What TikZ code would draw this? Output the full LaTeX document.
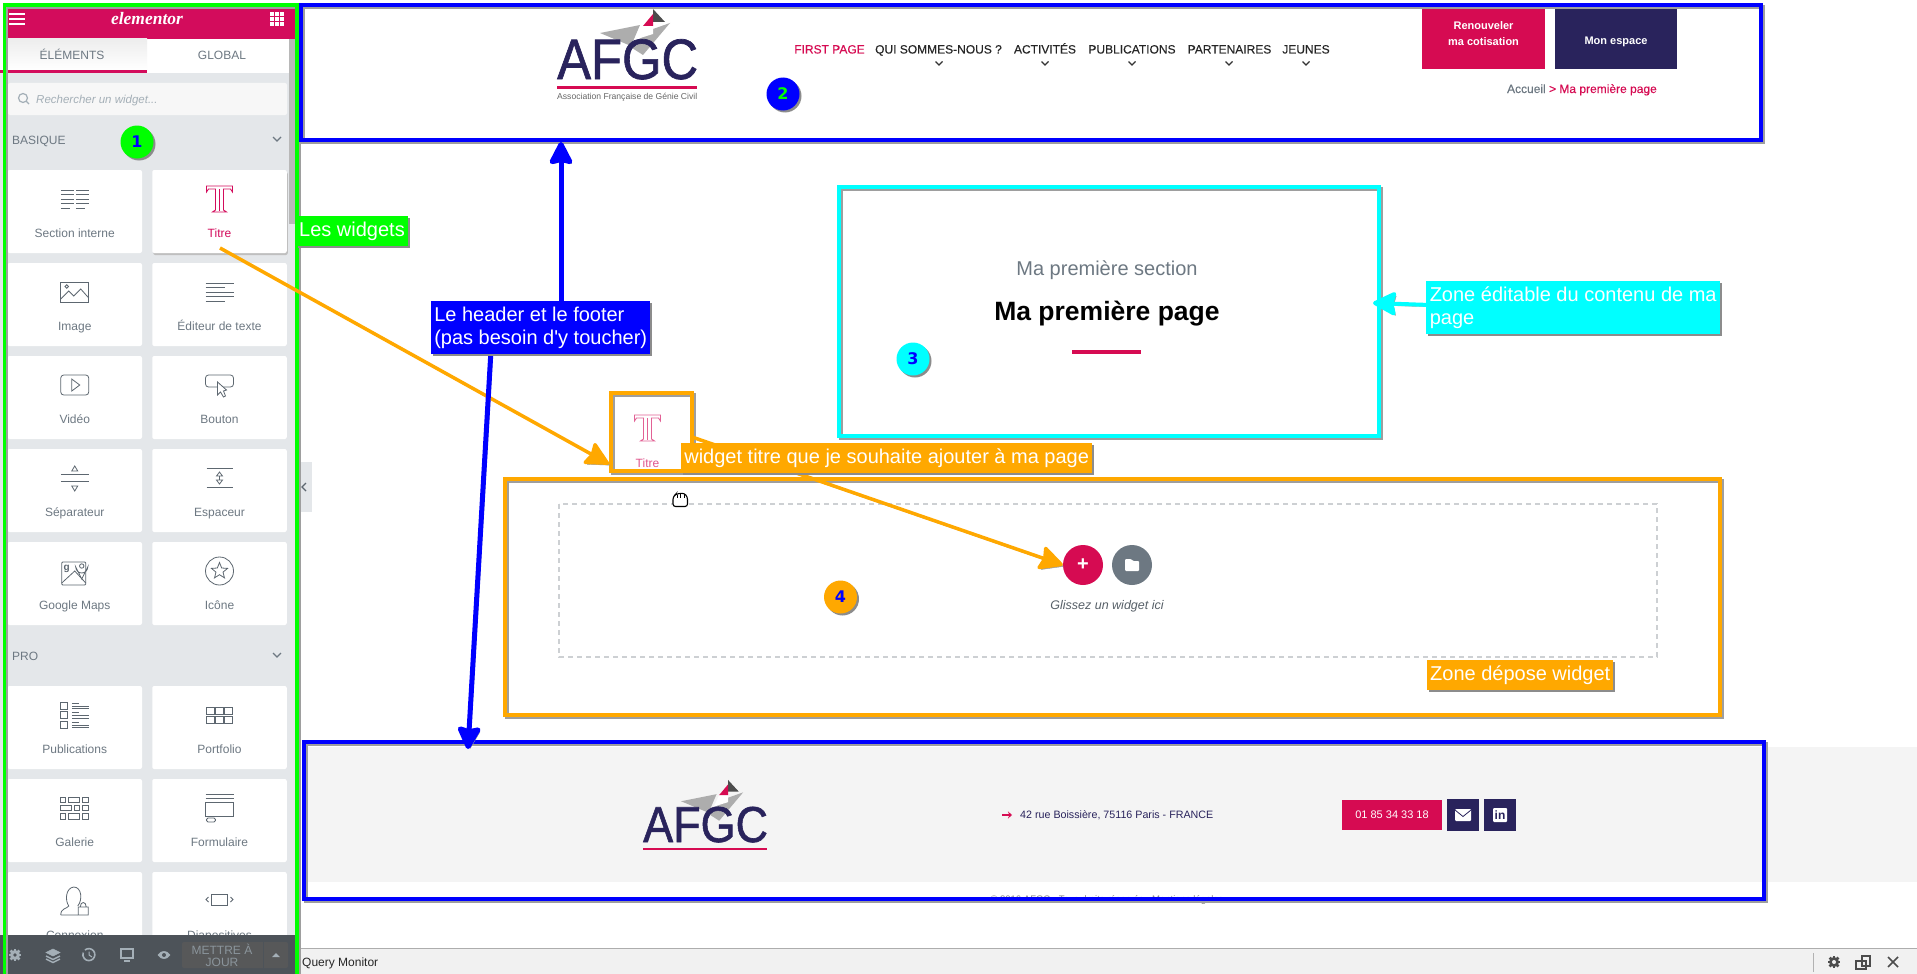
\documentclass[tikz,border=0pt]{standalone}
\usepackage{fontspec}
\setmainfont{Liberation Sans}
\newfontfamily\logofont{Liberation Serif}
\newfontfamily\numfont{DejaVu Sans}
\newfontfamily\tagfont{Liberation Sans}
\newfontfamily\menufont[FakeBold=0.25]{Liberation Sans}
\newfontfamily\brandfont[FakeBold=1.2]{Liberation Sans}
\usetikzlibrary{arrows.meta,shapes.geometric}
\definecolor{panelbg}{HTML}{E4E7EA}
\definecolor{elpink}{HTML}{D30C5C}
\definecolor{afgcpink}{HTML}{D60B52}
\definecolor{afgcnavy}{HTML}{29235C}
\definecolor{icongrey}{HTML}{5D6770}
\definecolor{textgrey}{HTML}{6D7882}
\definecolor{softgrey}{HTML}{A4AFB7}
\definecolor{barbg}{HTML}{4D5359}
\definecolor{zonegreen}{HTML}{00FF00}
\definecolor{zoneblue}{HTML}{0000FF}
\definecolor{zonecyan}{HTML}{00FFFF}
\definecolor{zoneorange}{HTML}{FFA800}
\newcommand{\fs}[1]{\fontsize{#1}{#1}\selectfont}
\tikzset{
  x=1pt,y=-1pt,
  edgeshadow/.style={preaction={draw=black!38,transform canvas={shift={(2pt,-2pt)}}}},
  fillshadow/.style={preaction={fill=black!45,transform canvas={shift={(2pt,-2pt)}}}},
  zone/.style={draw=#1,line width=4pt,inner sep=0pt,edgeshadow},
  tag/.style={fill=#1,text=white,anchor=north west,inner xsep=3pt,inner ysep=0pt,align=left,fillshadow,font=\tagfont\fontsize{20}{23}\selectfont},
  badge/.style={circle,fill=#1,minimum size=33pt,inner sep=0pt,fillshadow,font=\numfont\bfseries\fs{16}},
  arrowline/.style={draw=#1,-{Stealth[length=26pt,width=26pt,inset=3pt,round]},edgeshadow},
  card/.style={fill=white,rounded corners=2pt,minimum width=134.5pt,minimum height=83pt,inner sep=0pt},
  cardtxt/.style={text=textgrey,font=\fs{12},anchor=base},
  icon/.style={draw=icongrey,line width=.8pt},
  menuitem/.style={text=black!85,font=\menufont\fs{12},inner sep=0pt,anchor=base},
  chevron/.style={draw=#1,line width=1.2pt},
  btn/.style={fill=#1,inner sep=0pt},
  btntxt/.style={text=white,font=\bfseries\fs{11},inner sep=0pt,align=center},
  baricon/.style={draw=softgrey,fill=softgrey,line width=.6pt},
  titleicon/.pic={
    \draw[draw=#1,line width=.9pt] (-13,22) -- (-13,16) -- (13,16) -- (13,22) -- (11,19) -- (4,19) -- (4,40) -- (7,42) -- (-7,42) -- (-4,40) -- (-4,19) -- (-11,19) -- cycle;
    \draw[draw=#1,line width=.6pt] (0,19) -- (0,41);
  },
  gearicon/.pic={
    \foreach \a in {0,45,...,315} \draw[draw=#1,line width=2.6pt] (\a:3) -- (\a:6.2);
    \fill[#1] (0,0) circle (5);
  },
  afgclogo/.pic={
    \fill[black!32] (43,-46) -- (83,-54) -- (74,-33) -- cycle;
    \fill[black!32] (113,-56) -- (96,-50) -- (72,-33) -- (86,-24) -- cycle;
    \fill[white] (96,-53) -- (86,-53) -- (80,-40) -- (96,-45) -- cycle;
    \fill[black!70] (96,-70) -- (108,-57) -- (96,-57) -- cycle;
    \fill[afgcpink] (96,-65) -- (86,-53) -- (96,-53) -- cycle;
    \node[anchor=base west,inner sep=0pt,text=afgcnavy,font=\brandfont\fs{57},transform shape] (-logoname) at (0,0) {\scalebox{.89}[1]{AFGC}};
    \fill[afgcpink] (0,6.5) rectangle (140,9.5);
  }
}
\begin{document}
\begin{tikzpicture}
\useasboundingbox (0,0) rectangle (1917,974);
\fill[white] (0,0) rectangle (1917,974);
% page background
\fill[black!4.5] (302,747) rectangle (1917,882);
\fill[black!5.5] (296,948) rectangle (1917,974);
\draw[black!32,line width=1pt] (296,948) -- (1917,948);
\fill[panelbg] (297,462) -- (312,462) -- (312,512) -- (297,512) -- cycle;
\draw[chevron=icongrey] (306,483) -- (302,487) -- (306,491);
% elementor panel
\fill[panelbg] (0,73) rectangle (296,935);
\fill[elpink] (5,5) rectangle (296,39);
\fill[white] (147,39) rectangle (290,73);
\shade[top color=black!7,bottom color=white] (6,39) rectangle (147,70);
\fill[elpink] (0,70) rectangle (147,73);
\fill[black!28] (289,39) rectangle (295,224);
\foreach \yy in {14,19,24} \draw[white,line width=2.2pt] (9,\yy) -- (25,\yy);
\foreach \xx in {270,275,280} \foreach \yy in {12,17,22} \fill[white] (\xx,\yy) rectangle +(3.8,3.8);
\node[text=white,font=\logofont\bfseries\itshape\fs{17.5},inner sep=0pt] (ellogo) at (147,19) {elementor};
\node[text=textgrey,font=\fs{12},inner sep=0pt,anchor=base] (tabelements) at (72,59.5) {ÉLÉMENTS};
\node[text=textgrey,font=\fs{12},inner sep=0pt,anchor=base] (tabglobal) at (222,59.5) {GLOBAL};
\fill[black!3,rounded corners=2pt] (8,83) rectangle (287,115);
\draw[softgrey,line width=1.2pt] (23,98) circle (4.5) (26.5,101.5) -- (29,104);
\node[anchor=base west,text=softgrey,font=\itshape\fs{11.5},inner sep=0pt] (searchtxt) at (36,103) {Rechercher un widget...};
\node[anchor=base west,text=textgrey,font=\fs{12},inner sep=0pt] (basique) at (12,144.5) {BASIQUE};
\draw[chevron=textgrey] (273,137) -- (277,141) -- (281,137);
\node[anchor=base west,text=textgrey,font=\fs{12},inner sep=0pt] (pro) at (12,660.5) {PRO};
\draw[chevron=textgrey] (273,653) -- (277,657) -- (281,653);
% widget cards
\node[card,preaction={fill=black!25,transform canvas={shift={(1pt,-2pt)}}}] (cardtitre) at (219.5,211.5) {};
\foreach \cx/\yt/\lab [count=\n] in {74.75/170/Section interne,74.75/263/Image,219.5/263/Éditeur de texte,74.75/356/Vidéo,219.5/356/Bouton,74.75/449/Séparateur,219.5/449/Espaceur,74.75/542/Google Maps,219.5/542/Icône,74.75/686/Publications,219.5/686/Portfolio,74.75/779/Galerie,219.5/779/Formulaire,74.75/872/Connexion,219.5/872/Diapositives}{
  \node[card] (card\n) at (\cx,\yt+41.5) {};
  \node[cardtxt] (cardtxt\n) at (\cx,\yt+67.5) {\lab};
}
\node[cardtxt,text=elpink] (cardtitretxt) at (219.5,237.5) {Titre};
\pic (titreicon) at (219.5,170) {titleicon=elpink};
% section interne
\begin{scope}[shift={(74.75,170)}]
  \foreach \yy in {20,24.5,29,33.5} \draw[icon] (-14,\yy) -- (-1,\yy) (1,\yy) -- (14,\yy);
  \draw[icon] (-14,38) -- (-5,38) (1,38) -- (10,38);
\end{scope}
% image
\begin{scope}[shift={(74.75,263)}]
  \draw[icon] (-14,19) rectangle (14,39);
  \draw[icon] (-14,36) -- (-6,28) -- (-1,33) -- (6,26) -- (14,35);
  \draw[icon] (-8,23.5) circle (1.8);
\end{scope}
% editeur
\begin{scope}[shift={(219.5,263)}]
  \foreach \yy/\xe in {20/14,24.5/5,29/14,33.5/14,38/5} \draw[icon] (-14,\yy) -- (\xe,\yy);
\end{scope}
% video
\begin{scope}[shift={(74.75,356)}]
  \draw[icon,rounded corners=3pt] (-14,19) rectangle (14,39);
  \draw[icon] (-3,23) -- (5,29) -- (-3,35) -- cycle;
\end{scope}
% bouton
\begin{scope}[shift={(219.5,356)}]
  \draw[icon,rounded corners=3pt] (-14,19) rectangle (14,31);
  \path[icon,fill=white] (-2,26) -- (-2,39) -- (1,36) -- (4,41) -- (6,40) -- (4,35) -- (7,34) -- cycle;
\end{scope}
% separateur
\begin{scope}[shift={(74.75,449)}]
  \draw[icon] (-14,25) -- (14,25) (-14,32) -- (14,32);
  \draw[icon] (-3,22) -- (0,17) -- (3,22) -- cycle (-3,37) -- (0,42) -- (3,37) -- cycle;
\end{scope}
% espaceur
\begin{scope}[shift={(219.5,449)}]
  \draw[icon] (-13,19) -- (13,19) (-13,38) -- (13,38);
  \draw[icon] (-3,27) -- (0,23) -- (3,27) -- cycle (-3,31) -- (0,35) -- (3,31) -- cycle (0,27) -- (0,31);
\end{scope}
% google maps
\begin{scope}[shift={(74.75,542)}]
  \draw[icon,rounded corners=1pt] (-13,20) rectangle (11,43);
  \draw[icon] (-13,41) -- (0,29) -- (11,41);
  \draw[icon,fill=white] (7,37) -- (1,25) arc[start angle=180,end angle=0,radius=6] -- cycle;
  \draw[icon] (7,24) circle (2.2);
  \node[text=icongrey,font=\bfseries\fs{10},inner sep=0pt] (gletter) at (-8,27) {g};
\end{scope}
% icone
\begin{scope}[shift={(219.5,542)}]
  \draw[icon] (0,29) circle (14);
  \node[star,star points=5,star point ratio=2.3,draw=icongrey,line width=.8pt,minimum size=17pt,inner sep=0pt] (staricon) at (0,29) {};
\end{scope}
% publications
\begin{scope}[shift={(74.75,686)}]
  \foreach \yy in {16,25.5,35} {
    \draw[icon] (-14,\yy) rectangle +(7,7);
    \draw[icon] (-3,\yy+1) -- (4,\yy+1) (-3,\yy+4) -- (14,\yy+4) (-3,\yy+6.5) -- (14,\yy+6.5);
  }
\end{scope}
% portfolio
\begin{scope}[shift={(219.5,686)}]
  \foreach \xx in {-13,-4,5} \foreach \yy in {21,30} \draw[icon] (\xx,\yy) rectangle +(7.5,7);
\end{scope}
% galerie
\begin{scope}[shift={(74.75,779)}]
  \draw[icon] (-14,18) rectangle (-9,23.5) (-6,18) rectangle (5,23.5) (8,18) rectangle (14,23.5);
  \draw[icon] (-14,26) rectangle (-3,31.5) (0,26) rectangle (5,31.5) (8,26) rectangle (14,31.5);
  \draw[icon] (-14,34) rectangle (-9,40) (-6,34) rectangle (5,40) (8,34) rectangle (14,40);
\end{scope}
% formulaire
\begin{scope}[shift={(219.5,779)}]
  \draw[icon] (-14,15) -- (14,15) (-14,19) -- (14,19);
  \draw[icon] (-14,23) rectangle (14,37);
  \draw[icon,rounded corners=1.5pt] (-13,39) rectangle (-4,43);
\end{scope}
% connexion
\begin{scope}[shift={(74.75,872)}]
  \draw[icon] (-14,43) .. controls (-14,36) and (-8,37) .. (-6,34) .. controls (-10,28) and (-9,16) .. (-1,15) .. controls (7,15) and (8,28) .. (3,34) (-14,43) -- (3,43);
  \draw[icon] (3.5,35) rectangle (13.5,43) (5.5,35) .. controls (5.5,29) and (11.5,29) .. (11.5,35);
\end{scope}
% diapositives
\begin{scope}[shift={(219.5,872)}]
  \draw[icon] (-8,22) rectangle (8,33);
  \draw[icon] (-11,25) -- (-13.5,27.5) -- (-11,30) (11,25) -- (13.5,27.5) -- (11,30);
\end{scope}
% bottom bar
\fill[barbg] (0,935) rectangle (296,974);
\pic (bargear) at (15,955) {gearicon=softgrey};
\fill[barbg] (15,955) circle (1.8);
\draw[baricon] (53,949) -- (60,952.5) -- (53,956) -- (46,952.5) -- cycle;
\draw[baricon,fill=none,line width=1.5pt] (46,956) -- (53,959.5) -- (60,956) (46,959) -- (53,962.5) -- (60,959);
\draw[softgrey,line width=1.6pt] (85,950) arc[start angle=-130,end angle=200,radius=6];
\draw[softgrey,line width=1pt] (89,951.5) -- (89,955) -- (92,957);
\draw[softgrey,line width=1.6pt] (121,949) rectangle (133,958);
\fill[softgrey] (124,960) rectangle (130,961.5);
\draw[softgrey,fill=softgrey] (158,955) .. controls (161,950) and (167,950) .. (170,955) .. controls (167,960) and (161,960) .. (158,955) -- cycle;
\fill[barbg] (164,955) circle (2);
\fill[black!62!panelbg,rounded corners=2pt] (182,942) rectangle (288,968);
\draw[barbg] (263,942) -- (263,968);
\node[text=softgrey!85!black,font=\fontsize{12}{12}\selectfont,align=center,inner sep=0pt] (savebtn) at (222,955) {METTRE À\\[0pt]JOUR};
\fill[softgrey] (272,957) -- (276,953) -- (280,957) -- cycle;
% page header
\pic (logotop) at (557,79) {afgclogo};
\node[anchor=west,text=black!60,font=\fs{8.6},inner sep=0pt] (logosub) at (557,97) {Association Française de Génie Civil};
\node[menuitem,text=afgcpink] (itemfirst) at (829.5,53.5) {FIRST PAGE};
\node[menuitem] (itemqui) at (938.5,53.5) {QUI SOMMES-NOUS ?};
\node[menuitem] (itemact) at (1045,53.5) {ACTIVITÉS};
\node[menuitem] (itempub) at (1132,53.5) {PUBLICATIONS};
\node[menuitem] (itempart) at (1229.5,53.5) {PARTENAIRES};
\node[menuitem] (itemjeunes) at (1306,53.5) {JEUNES};
\foreach \xx in {939,1045,1132,1229,1306} \draw[chevron=black!80] (\xx-3.5,61.5) -- (\xx,65) -- (\xx+3.5,61.5);
\node[btn=afgcpink,minimum width=123pt,minimum height=60pt] (btnrenew) at (1483.5,39) {};
\node[btn=afgcnavy,minimum width=122pt,minimum height=60pt] (btnspace) at (1616,39) {};
\node[btntxt,font=\bfseries\fontsize{11}{16}\selectfont] (btnrenewtxt) at (1483.5,34) {Renouveler\\ma cotisation};
\node[btntxt] (btnspacetxt) at (1616,42) {Mon espace};
\node[anchor=base east,inner sep=0pt,font=\menufont\fs{12},text=afgcpink] (crumb) at (1657,93) {\textcolor{textgrey}{Accueil} > Ma première page};
% main section
\node[text=textgrey,font=\fs{20},inner sep=0pt] (sectitle) at (1107,270.5) {Ma première section};
\node[text=black,font=\bfseries\fs{26.5},inner sep=0pt] (pagetitle) at (1107,314) {Ma première page};
\fill[afgcpink] (1072,349.5) rectangle (1141,353.5);
% drop area
\draw[panelbg!90!black,line width=1.2pt,dash pattern=on 5pt off 4pt] (559,504) rectangle (1657,657);
\node[circle,fill=afgcpink,minimum size=40pt,inner sep=0pt,text=white,font=\bfseries\fs{20}] (addbtn) at (1083,565) {+};
\node[circle,fill=textgrey,minimum size=40pt,inner sep=0pt] (tplbtn) at (1132,565) {};
\fill[white,rounded corners=1pt] (1125,559) -- (1131,559) -- (1133,561) -- (1139,561) -- (1139,571) -- (1125,571) -- cycle;
\node[text=textgrey!80!black,font=\itshape\fs{12.5},inner sep=0pt] (droptxt) at (1107,606) {Glissez un widget ici};
% hand cursor
\draw[black,fill=white,line width=1.1pt,rounded corners=2.5pt] (673,506.5) -- (673,497) -- (676,494) -- (684,493) -- (687.5,497) -- (687.5,506.5) -- cycle;
\draw[black,line width=.7pt] (677,494.5) -- (677,498) (680.5,494) -- (680.5,498) (684,494) -- (684,498);
\pic (dragicon) at (647.5,399) {titleicon=elpink!65};
\node[cardtxt,text=elpink!70] (dragtxt) at (647.5,467.5) {Titre};
% page footer
\pic[scale=.886] (logobottom) at (643,842) {afgclogo};
\draw[afgcpink,line width=1.6pt,-{Stealth[length=4pt,width=7pt]}] (1002,815) -- (1012,815);
\node[anchor=west,inner sep=0pt,text=afgcnavy,font=\fs{10.7}] (address) at (1020,815) {42 rue Boissière, 75116 Paris - FRANCE};
\node[btn=afgcpink,minimum width=100pt,minimum height=30pt,text=white,font=\fs{11}] (btnphone) at (1392,815) {01 85 34 33 18};
\node[btn=afgcnavy,minimum width=32pt,minimum height=32pt] (btnmail) at (1463,815) {};
\node[btn=afgcnavy,minimum width=32pt,minimum height=32pt] (btnlink) at (1500,815) {};
\fill[white,rounded corners=1pt] (1455,809) rectangle (1471,821);
\draw[afgcnavy,line width=.8pt] (1455,810) -- (1463,816.5) -- (1471,810);
\fill[white,rounded corners=1pt] (1493,808) rectangle (1507,822);
\node[text=afgcnavy,font=\bfseries\fs{12},inner sep=0pt] (linkin) at (1500,815) {in};
\node[text=black!48,font=\fs{9.5},inner sep=0pt] (copyline) at (1107,900) {© 2016 AFGC - Tous droits réservés - Mentions légales};
% query monitor
\node[anchor=west,inner sep=0pt,text=black!85,font=\fs{12}] (qmtxt) at (302,963) {Query Monitor};
\draw[black!30,line width=.8pt] (1813,953) -- (1813,972);
\pic (qmgear) at (1834,962) {gearicon=black!70};
\fill[black!5.5] (1834,962) circle (2);
\draw[black!70,line width=1.2pt] (1862,956) rectangle (1870,966) (1856,961) rectangle (1866,969);
\draw[black!70,line width=1.6pt] (1888,957) -- (1898,967) (1898,957) -- (1888,967);
% zones
\node[zone=zonegreen,line width=3.5pt,minimum width=292.5pt,minimum height=980pt] (zonewidgets) at (150.75,495) {};
\node[zone=zoneblue,minimum width=1460pt,minimum height=135pt] (zoneheader) at (1031,72.5) {};
\node[zone=zoneblue,minimum width=1460pt,minimum height=157pt] (zonefooter) at (1034,820.5) {};
\node[zone=zonecyan,minimum width=540pt,minimum height=249pt] (zoneedit) at (1109,311.5) {};
\node[zone=zoneorange,minimum width=1215pt,minimum height=236pt] (zonedrop) at (1112.5,597) {};
\node[zone=zoneorange,minimum width=81pt,minimum height=78pt] (dragbox) at (651.5,432) {};
% connectors
\coordinate (cardgrab) at (220,248);
\coordinate (dragtip) at (609,464);
\coordinate (dragstart) at (692,437);
\coordinate (upstart) at (561,305);
\coordinate (downstart) at (491,350);
\coordinate (downtip) at (468,749);
\coordinate (editstart) at (1430,305);
\coordinate (edittip) at (1373,303);
\draw[arrowline=zoneorange,line width=3.5pt] (cardgrab) -- (dragtip);
\draw[arrowline=zoneorange,line width=3.5pt] (dragstart) -- (addbtn.west);
\draw[arrowline=zoneblue,line width=5pt] (upstart) -- (upstart |- zoneheader.south);
\draw[arrowline=zoneblue,line width=5pt] (downstart) -- (downtip);
\draw[arrowline=zonecyan,line width=4pt] (editstart) -- (edittip);
% labels
\node[tag=zonegreen,minimum width=110pt,minimum height=30pt] (tagwidgets) at (296,216) {Les widgets};
\node[tag=zoneblue,minimum width=219pt,minimum height=53pt] (tagheader) at (431,301) {Le header et le footer\\(pas besoin d'y toucher)};
\node[tag=zonecyan,minimum width=294pt,minimum height=53pt] (tagedit) at (1426,281) {Zone éditable du contenu de ma\\page};
\node[tag=zoneorange,minimum width=411pt,minimum height=30pt] (tagdrag) at (681,443) {widget titre que je souhaite ajouter à ma page};
\node[tag=zoneorange,minimum width=185pt,minimum height=30pt] (tagdrop) at (1427,660) {Zone dépose widget};
% markers
\node[badge=zonegreen,text=zoneblue] (mark1) at (137,142) {1};
\node[badge=zoneblue,text=zonegreen] (mark2) at (783,94) {2};
\node[badge=zonecyan,text=zoneblue] (mark3) at (913,359) {3};
\node[badge=zoneorange,text=zoneblue] (mark4) at (840.5,597) {4};
\end{tikzpicture}
\end{document}
